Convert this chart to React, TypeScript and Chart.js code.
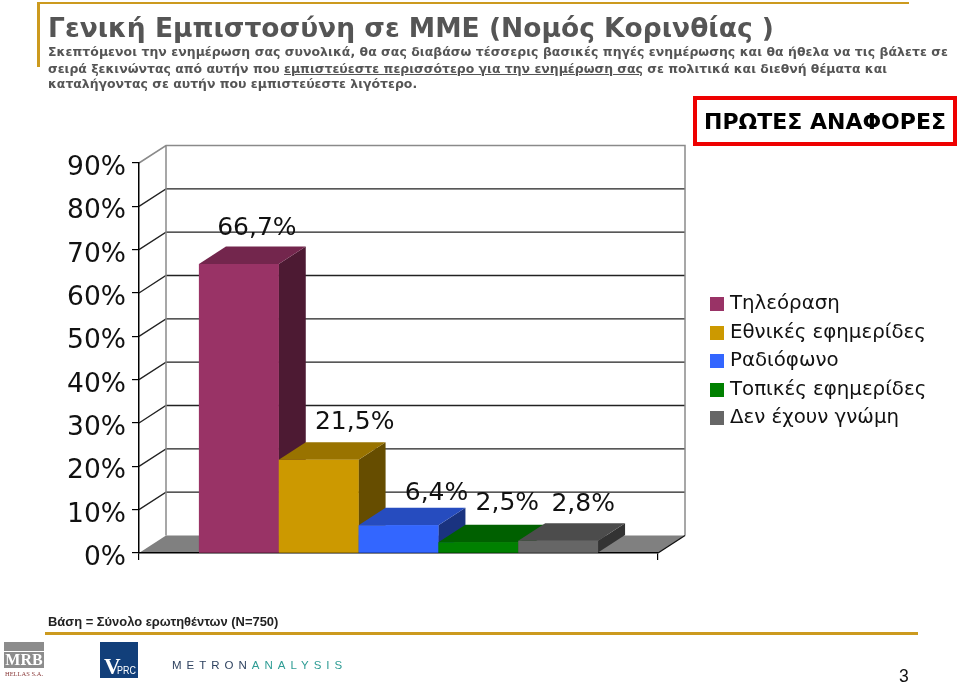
import React, { useEffect, useRef } from "react";
import { Chart, registerables } from "chart.js";

Chart.register(...registerables);

const categories = [""];
const seriesNames = ["Τηλεόραση", "Εθνικές εφημερίδες", "Ραδιόφωνο", "Τοπικές εφημερίδες", "Δεν έχουν γνώμη"];
const seriesValues = [66.7, 21.5, 6.4, 2.5, 2.8];
const valueLabels = ["66,7%", "21,5%", "6,4%", "2,5%", "2,8%"];
const frontColors = ["#993366", "#CC9900", "#3366FF", "#008000", "#666666"];
const topColors = ["#73264D", "#997300", "#264CBF", "#006000", "#4C4C4C"];
const sideColors = ["#4D1A33", "#664D00", "#1A3380", "#004000", "#333333"];
const labelShiftX = [18, 36, 38, 29, 25];
const labelShiftY = [-35, -37, -32, -39, -36];
const yMax = 90;
const yStep = 10;

const titleText = "Γενική Εμπιστοσύνη σε ΜΜΕ (Νομός Κορινθίας )";
const footnote = "Βάση = Σύνολο ερωτηθέντων (N=750)";
const stamp = "ΠΡΩΤΕΣ ΑΝΑΦΟΡΕΣ";

const DEPTH_X = 27;
const DEPTH_Y = 17.5;
const CHART_FONT = "'DejaVu Sans', sans-serif";

const threeDPlugin = {
  id: "threeD",
  beforeDraw(chart: any) {
    const { ctx, scales } = chart;
    const y = scales.y;
    const x = scales.x;
    const l = x.left, r = x.right;
    const b = y.getPixelForValue(0), t = y.getPixelForValue(yMax);
    ctx.save();
    ctx.fillStyle = "#808080";
    ctx.beginPath();
    ctx.moveTo(l, b);
    ctx.lineTo(r, b);
    ctx.lineTo(r + DEPTH_X, b - DEPTH_Y);
    ctx.lineTo(l + DEPTH_X, b - DEPTH_Y);
    ctx.closePath();
    ctx.fill();
    ctx.lineWidth = 1.3;
    ctx.strokeStyle = "#222222";
    for (let v = yStep; v < yMax; v += yStep) {
      const p = y.getPixelForValue(v);
      ctx.beginPath();
      ctx.moveTo(l, p);
      ctx.lineTo(l + DEPTH_X, p - DEPTH_Y);
      ctx.lineTo(r + DEPTH_X, p - DEPTH_Y);
      ctx.stroke();
    }
    ctx.strokeStyle = "#8A8A8A";
    ctx.lineWidth = 1.5;
    ctx.beginPath();
    ctx.moveTo(l, t);
    ctx.lineTo(l + DEPTH_X, t - DEPTH_Y);
    ctx.lineTo(r + DEPTH_X, t - DEPTH_Y);
    ctx.lineTo(r + DEPTH_X, b - DEPTH_Y);
    ctx.moveTo(l + DEPTH_X, t - DEPTH_Y);
    ctx.lineTo(l + DEPTH_X, b - DEPTH_Y);
    ctx.stroke();
    ctx.strokeStyle = "#111111";
    ctx.lineWidth = 1.3;
    ctx.beginPath();
    ctx.moveTo(r, b);
    ctx.lineTo(r + DEPTH_X, b - DEPTH_Y);
    ctx.stroke();
    ctx.restore();
  },
  afterDatasetsDraw(chart: any) {
    const { ctx } = chart;
    ctx.save();
    seriesValues.forEach((_, i) => {
      const bar = chart.getDatasetMeta(i).data[0];
      const { x, y, base, width } = bar.getProps(["x", "y", "base", "width"], true);
      const left = x - width / 2, right = x + width / 2;
      ctx.fillStyle = sideColors[i];
      ctx.beginPath();
      ctx.moveTo(right, y);
      ctx.lineTo(right + DEPTH_X, y - DEPTH_Y);
      ctx.lineTo(right + DEPTH_X, base - DEPTH_Y);
      ctx.lineTo(right, base);
      ctx.closePath();
      ctx.fill();
      ctx.fillStyle = topColors[i];
      ctx.beginPath();
      ctx.moveTo(left, y);
      ctx.lineTo(right, y);
      ctx.lineTo(right + DEPTH_X, y - DEPTH_Y);
      ctx.lineTo(left + DEPTH_X, y - DEPTH_Y);
      ctx.closePath();
      ctx.fill();
      bar.draw(ctx);
    });
    ctx.fillStyle = "#111111";
    ctx.font = `25px ${CHART_FONT}`;
    ctx.textAlign = "center";
    ctx.textBaseline = "middle";
    seriesValues.forEach((_, i) => {
      const bar = chart.getDatasetMeta(i).data[0];
      ctx.fillText(valueLabels[i], bar.x + labelShiftX[i], bar.y + labelShiftY[i]);
    });
    ctx.restore();
  },
};

export default function App() {
  const ref = useRef<HTMLCanvasElement | null>(null);
  useEffect(() => {
    if (!ref.current) return;
    const chart = new Chart(ref.current, {
      type: "bar",
      data: {
        labels: categories,
        datasets: seriesNames.map((name, i) => ({
          label: name,
          data: [seriesValues[i]],
          backgroundColor: frontColors[i],
          borderWidth: 0,
          barPercentage: 1,
          categoryPercentage: 0.769,
        })),
      },
      options: {
        animation: false,
        responsive: false,
        layout: { padding: { top: 163, right: 302, bottom: 129, left: 0 } },
        plugins: { legend: { display: false }, title: { display: false }, tooltip: { enabled: false } },
        scales: {
          x: {
            z: 1,
            afterFit: (s: any) => { s.height = 0; },
            ticks: { display: false },
            border: { display: true, color: "#000000", width: 1.5 },
            grid: { drawOnChartArea: false, drawTicks: true, tickLength: 7, color: "#000000", lineWidth: 1.2 },
          },
          y: {
            min: 0,
            max: yMax,
            afterFit: (s: any) => { s.width = 139; },
            ticks: {
              stepSize: yStep,
              padding: 6,
              labelOffset: 5,
              color: "#111111",
              font: { family: CHART_FONT, size: 26.5 },
              callback: (v: any) => `${v}%`,
            },
            border: { display: true, color: "#000000", width: 1.5 },
            grid: { drawOnChartArea: false, drawTicks: true, tickLength: 7, color: "#000000", lineWidth: 1.2 },
          },
        },
      },
      plugins: [threeDPlugin],
    } as any);
    return () => chart.destroy();
  }, []);

  const abs = (s: React.CSSProperties): React.CSSProperties => ({ position: "absolute", whiteSpace: "nowrap", ...s });
  const body: React.CSSProperties = { left: 48, fontFamily: "'DejaVu Sans', sans-serif", fontWeight: 700, fontSize: 12.45, lineHeight: "16px", color: "#555555" };

  return (
    <div style={{ position: "absolute", left: 0, top: 0, width: 960, height: 682, overflow: "hidden", background: "#fff" }}>
      <canvas ref={ref} width={960} height={682} style={{ position: "absolute", left: 0, top: 0, width: 960, height: 682 }} />

      <div style={abs({ left: 37, top: 1.5, width: 872, height: 2.5, background: "#CC9A1E" })} />
      <div style={abs({ left: 37, top: 2, width: 2.5, height: 65, background: "#CC9A1E" })} />
      <div style={abs({ left: 48, top: 13, fontFamily: "'DejaVu Sans', sans-serif", fontWeight: 700, fontSize: 26.5, lineHeight: "30px", color: "#555555" })}>{titleText}</div>
      <div style={abs({ ...body, top: 44, letterSpacing: 0.05 })}>Σκεπτόμενοι την ενημέρωση σας συνολικά, θα σας διαβάσω τέσσερις βασικές πηγές ενημέρωσης και θα ήθελα να τις βάλετε σε</div>
      <div style={abs({ ...body, top: 60.5 })}>σειρά ξεκινώντας από αυτήν που <span style={{ textDecoration: "underline" }}>εμπιστεύεστε περισσότερο για την ενημέρωση σας</span> σε πολιτικά και διεθνή θέματα και</div>
      <div style={abs({ ...body, top: 76 })}>καταλήγοντας σε αυτήν που εμπιστεύεστε λιγότερο.</div>

      <div style={abs({ left: 693, top: 96, width: 264, height: 50, boxSizing: "border-box", border: "4px solid #EE0000", display: "flex", alignItems: "center", justifyContent: "center", fontFamily: "'DejaVu Sans', sans-serif", fontWeight: 700, fontSize: 22, color: "#000" })}>{stamp}</div>

      {seriesNames.map((name, i) => (
        <React.Fragment key={name}>
          <div style={abs({ left: 710, top: 297 + i * 28.5, width: 14, height: 14, background: frontColors[i] })} />
          <div style={abs({ left: 730, top: 289 + i * 28.5, fontFamily: "'DejaVu Sans', sans-serif", fontSize: 19.8, lineHeight: "28px", color: "#111" })}>{name}</div>
        </React.Fragment>
      ))}

      <div style={abs({ left: 48, top: 614, fontFamily: "'Liberation Sans', sans-serif", fontWeight: 700, fontSize: 12.95, lineHeight: "16px", color: "#222" })}>{footnote}</div>
      <div style={abs({ left: 45, top: 632, width: 872.5, height: 2.5, background: "#CC9A1E" })} />

      <div style={abs({ left: 4, top: 642, width: 40, height: 9, background: "#8C8C8C" })} />
      <div style={abs({ left: 4, top: 652, width: 40, height: 16, background: "#8C8C8C" })} />
      <div style={abs({ left: 4, top: 651, width: 40, textAlign: "center", fontFamily: "'Liberation Serif', serif", fontWeight: 700, fontSize: 16, lineHeight: "18px", color: "#FFFFFF" })}>MRB</div>
      <div style={abs({ left: 4, top: 669, width: 40, textAlign: "center", fontFamily: "'Liberation Serif', serif", fontSize: 6.5, lineHeight: "9px", color: "#8A3A3A" })}>HELLAS S.A.</div>

      <div style={abs({ left: 100, top: 642, width: 38, height: 36, background: "#123F7A" })}>
        <span style={abs({ left: 4, top: 13, fontFamily: "'Liberation Serif', serif", fontWeight: 700, fontSize: 23, lineHeight: "24px", color: "#fff" })}>V</span>
        <span style={abs({ left: 17, top: 22, fontFamily: "'Liberation Sans', sans-serif", fontSize: 10.5, lineHeight: "12px", color: "#fff", transform: "scaleX(0.85)", transformOrigin: "left" })}>PRC</span>
      </div>
      <div style={abs({ left: 172, top: 657, fontFamily: "'Liberation Sans', sans-serif", fontSize: 11.5, lineHeight: "16px", letterSpacing: 5.0, color: "#2F4360" })}>
        METRON<span style={{ color: "#2E9C94" }}>ANALYSIS</span>
      </div>

      <div style={abs({ left: 899, top: 666, fontFamily: "'Liberation Sans', sans-serif", fontSize: 17.5, lineHeight: "20px", color: "#111" })}>3</div>
    </div>
  );
}
